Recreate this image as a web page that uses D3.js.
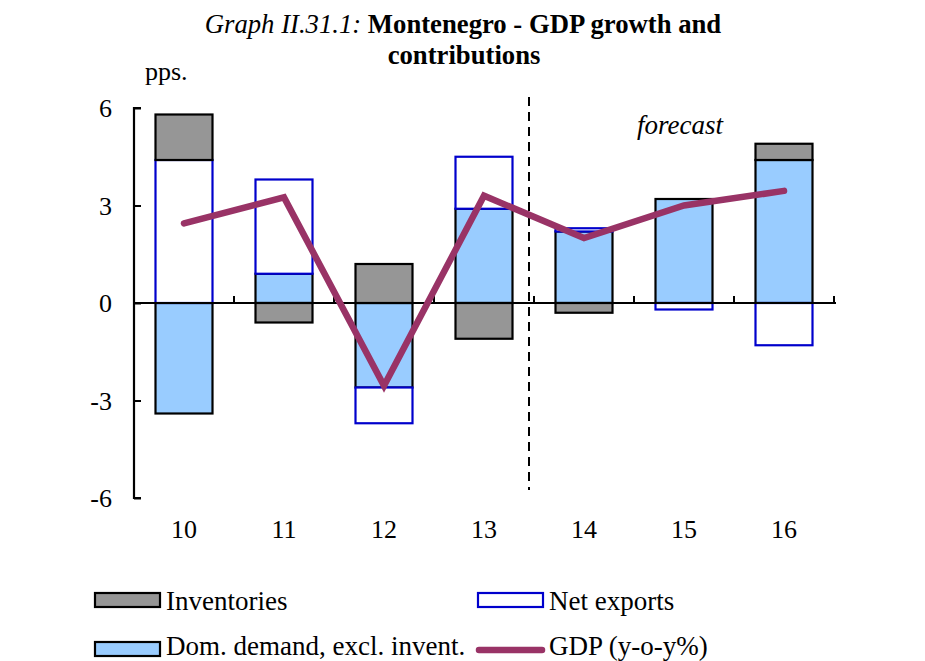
<!DOCTYPE html>
<html>
<head>
<meta charset="utf-8">
<script src="https://cdn.jsdelivr.net/npm/d3@7"></script>
<style>
  body { margin: 0; background: #fff; }
  text { font-family: "Liberation Serif", "Times New Roman", serif; }
</style>
</head>
<body>
<svg id="chart" width="925" height="661"></svg>
<script>
const years = ["10", "11", "12", "13", "14", "15", "16"];
const domDemand = [-3.4, 0.9, -2.6, 2.9, 2.2, 3.2, 4.4];
const netExports = [4.4, 2.9, -1.1, 1.6, 0.1, -0.2, -1.3];
const inventories = [1.4, -0.6, 1.2, -1.1, -0.3, 0, 0.5];
const gdp = [2.45, 3.25, -2.55, 3.3, 2.0, 3.0, 3.45];
const yTicks = [-6, -3, 0, 3, 6];

const svg = d3.select("#chart");

const x = d3.scaleBand()
  .domain(years)
  .range([134, 834])
  .paddingInner(0.43)
  .paddingOuter(0.215);

const y = d3.scaleLinear()
  .domain([-6, 6])
  .range([498, 108]);

const rows = years.map((yr, i) => ({
  year: yr,
  dom: domDemand[i],
  net: netExports[i],
  inv: inventories[i]
}));

const series = d3.stack()
  .keys(["dom", "net", "inv"])
  .offset(d3.stackOffsetDiverging)(rows);

const styles = {
  dom: { fill: "#99ccff", stroke: "#000000" },
  net: { fill: "#ffffff", stroke: "#0000cc" },
  inv: { fill: "#969696", stroke: "#000000" }
};

/*
 * Bars
 */
const bars = svg.append("g").attr("class", "bars");
series.forEach(s => {
  bars.append("g")
    .selectAll("rect")
    .data(s.filter(d => d[1] !== d[0]))
    .join("rect")
    .attr("x", d => x(d.data.year))
    .attr("width", x.bandwidth())
    .attr("y", d => y(Math.max(d[0], d[1])))
    .attr("height", d => Math.abs(y(d[0]) - y(d[1])))
    .attr("fill", styles[s.key].fill)
    .attr("stroke", styles[s.key].stroke)
    .attr("stroke-width", 2.2);
});

// y axis
const yAxis = svg.append("g")
  .attr("transform", "translate(134,0)")
  .call(d3.axisRight(y).tickValues(yTicks).tickSize(7).tickFormat(""));
yAxis.select(".domain").attr("d", "M7,108H0V498H7").attr("stroke-width", 2.2);
yAxis.selectAll(".tick line").attr("stroke-width", 2);

svg.append("g")
  .selectAll("text")
  .data(yTicks)
  .join("text")
  .attr("x", 112)
  .attr("y", d => y(d) + 9)
  .attr("text-anchor", "end")
  .attr("font-size", "26px")
  .text(d => d);

// x axis at zero with ticks between categories
const step = x.step();
const bounds = years.map(yr => x(yr) + x.bandwidth() / 2 + step / 2);
const xAxis = svg.append("g");
xAxis.append("line")
  .attr("x1", 134).attr("x2", 836)
  .attr("y1", y(0)).attr("y2", y(0))
  .attr("stroke", "#000").attr("stroke-width", 2.2);
xAxis.selectAll("line.tick")
  .data(bounds)
  .join("line")
  .attr("class", "tick")
  .attr("x1", d => d).attr("x2", d => d)
  .attr("y1", y(0)).attr("y2", y(0) - 7)
  .attr("stroke", "#000").attr("stroke-width", 2);

svg.append("g")
  .selectAll("text")
  .data(years)
  .join("text")
  .attr("x", d => x(d) + x.bandwidth() / 2)
  .attr("y", 538)
  .attr("text-anchor", "middle")
  .attr("font-size", "26px")
  .text(d => d);

// forecast divider
const divX = bounds[3] - 5;
svg.append("line")
  .attr("x1", divX).attr("x2", divX)
  .attr("y1", 97).attr("y2", 490)
  .attr("stroke", "#000")
  .attr("stroke-width", 2)
  .attr("stroke-dasharray", "9,6");

svg.append("text")
  .attr("x", 680)
  .attr("y", 134)
  .attr("text-anchor", "middle")
  .attr("font-size", "27px")
  .attr("font-style", "italic")
  .text("forecast");

// GDP line
const line = d3.line()
  .x((d, i) => x(years[i]) + x.bandwidth() / 2)
  .y(d => y(d));
svg.append("path")
  .attr("d", line(gdp))
  .attr("fill", "none")
  .attr("stroke", "#993366")
  .attr("stroke-width", 6.5)
  .attr("stroke-linecap", "round")
  .attr("stroke-linejoin", "miter");

// title
const title = svg.append("text")
  .attr("x", 463)
  .attr("y", 33)
  .attr("text-anchor", "middle")
  .attr("font-size", "26.7px");
title.append("tspan").attr("font-style", "italic").text("Graph II.31.1: ");
title.append("tspan").attr("font-weight", "bold").text("Montenegro - GDP growth and");
svg.append("text")
  .attr("x", 464)
  .attr("y", 64)
  .attr("text-anchor", "middle")
  .attr("font-size", "26.7px")
  .attr("font-weight", "bold")
  .text("contributions");

svg.append("text")
  .attr("x", 145)
  .attr("y", 80)
  .attr("font-size", "26px")
  .text("pps.");

/*
 * Legend
 */
const legend = [
  { label: "Inventories", type: "rect", key: "inv", x: 95, y: 600 },
  { label: "Net exports", type: "rect", key: "net", x: 478, y: 600 },
  { label: "Dom. demand, excl. invent.", type: "rect", key: "dom", x: 95, y: 649 },
  { label: "GDP (y-o-y%)", type: "line", x: 476, y: 650 }
];
const lg = svg.append("g").attr("class", "legend");
legend.forEach(item => {
  if (item.type === "rect") {
    lg.append("rect")
      .attr("x", item.x)
      .attr("y", item.y - 7)
      .attr("width", 65)
      .attr("height", 14)
      .attr("fill", styles[item.key].fill)
      .attr("stroke", styles[item.key].stroke)
      .attr("stroke-width", 2.2);
  } else {
    lg.append("line")
      .attr("x1", item.x + 3).attr("x2", item.x + 66)
      .attr("y1", item.y).attr("y2", item.y)
      .attr("stroke", "#993366")
      .attr("stroke-width", 6.5)
      .attr("stroke-linecap", "round");
  }
  lg.append("text")
    .attr("x", item.x < 400 ? 166 : 549)
    .attr("y", item.y < 620 ? item.y + 10 : 655)
    .attr("font-size", "27px")
    .text(item.label);
});
</script>
</body>
</html>
